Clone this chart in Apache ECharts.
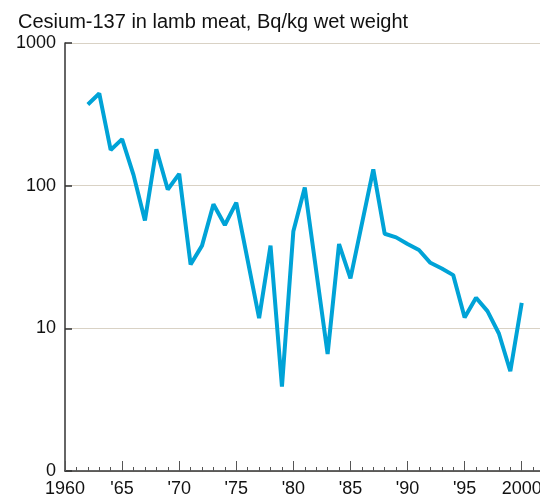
<!DOCTYPE html>
<html><head><meta charset="utf-8">
<script src="https://cdn.jsdelivr.net/npm/echarts@6/dist/echarts.min.js"></script>
<style>html,body{margin:0;padding:0;background:#fff}#c{width:540px;height:499px}</style>
</head><body><div id="c"></div>
<script>
const titleText = 'Cesium-137 in lamb meat, Bq/kg wet weight';
const years = [1962,1963,1964,1965,1966,1967,1968,1969,1970,1971,1972,1973,1974,1975,1977,1978,1979,1980,1981,1983,1984,1985,1987,1988,1989,1990,1991,1992,1993,1994,1995,1996,1997,1998,1999,2000];
const values = [371,443,178,212,119,57,180,94,121,28,38,74,53,76,11.8,38,3.9,48,97,6.6,39,22.4,130,46,43.4,39,35.4,28.8,26.3,23.6,11.9,16.4,13.2,9.2,5.0,15.1];
const yTicks = [1,10,100,1000];
const font = 'Liberation Sans, Arial, sans-serif';
const chart = echarts.init(document.getElementById('c'));
chart.setOption({
  animation:false,
  title:{text:titleText,left:13,top:7,textStyle:{fontFamily:font,fontSize:20,fontWeight:'normal',color:'#111'}},
  grid:{left:65,top:43,right:0,bottom:28,containLabel:false,outerBoundsMode:'none'},
  xAxis:{type:'value',min:1960,max:2001.6,interval:5,
    axisLine:{lineStyle:{color:'#333',width:1.5}},
    axisTick:{inside:true,length:10,lineStyle:{color:'#555'}},
    minorTick:{show:true,splitNumber:5,length:4,lineStyle:{color:'#555'}},
    splitLine:{show:false},
    axisLabel:{showMaxLabel:false,margin:9,fontFamily:font,fontSize:18,color:'#111',
      formatter:v=>(v===1960||v===2000)?String(v):"'"+String(v).slice(2)}},
  yAxis:{type:'log',logBase:10,min:1,max:1000,
    axisLine:{show:true,lineStyle:{color:'#333',width:1.5}},
    axisTick:{show:true,inside:true,length:7,lineStyle:{color:'#333',width:1.5}},
    splitLine:{show:true,lineStyle:{color:'#d9d2c5',width:1.2}},
    axisLabel:{margin:9,padding:[4,0,0,0],fontFamily:font,fontSize:18,color:'#111',
      formatter:v=>v===1?'0':String(v)}},
  series:[{type:'line',data:years.map((y,i)=>[y,values[i]]),showSymbol:false,
    lineStyle:{color:'#00a3d7',width:4},z:5}]
});
</script></body></html>
